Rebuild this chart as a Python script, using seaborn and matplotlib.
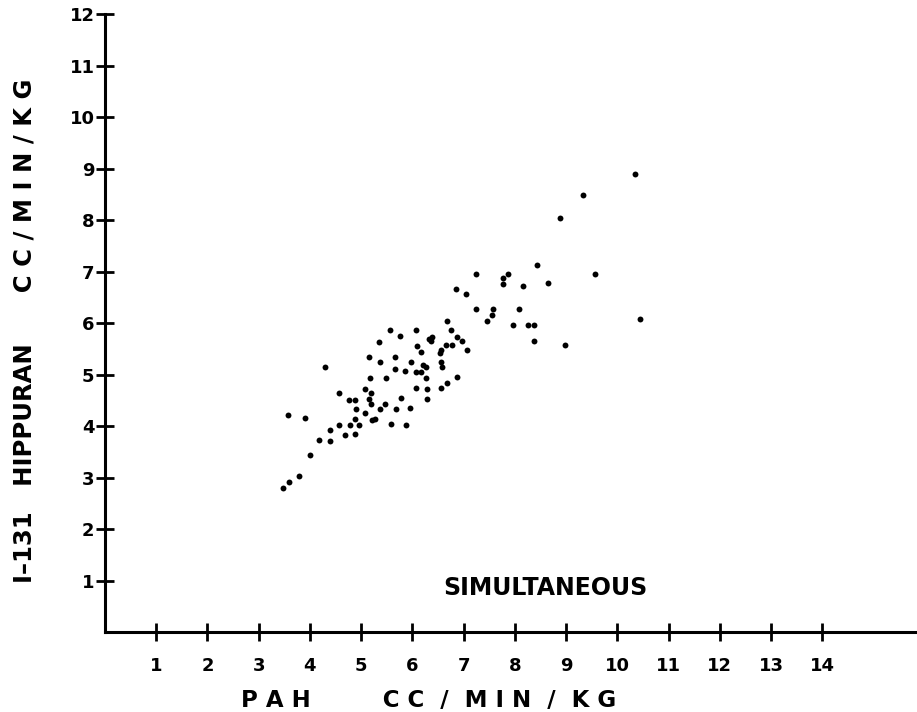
import pandas as pd
import seaborn as sns
import matplotlib
matplotlib.use("Agg")
from matplotlib import pyplot as plt

# format plots
sns.set_style("white")
plt.rcParams['font.family'] = ['DejaVu Sans']
plt.rcParams['font.weight'] = 'bold'
plt.rcParams['text.color'] = 'black'
plt.rcParams['axes.labelcolor'] = 'black'
plt.rcParams['xtick.color'] = 'black'
plt.rcParams['ytick.color'] = 'black'

# data (PAH clearance vs I-131 hippuran clearance, cc/min/kg)
pah = [7.25, 7.57, 7.56, 7.46, 6.68, 5.56, 6.07, 6.76, 5.75, 6.38,
       6.32, 6.36, 6.87, 6.96, 5.35, 6.09, 6.65, 6.77, 6.16, 6.56,
       6.53, 7.06, 5.16, 5.66, 5.36, 5.97, 6.56, 6.21, 6.27, 4.29,
       5.67, 5.85, 6.07, 6.17, 6.58, 5.17, 5.49, 6.27, 6.87, 6.68,
       5.07, 6.07, 6.28, 6.55, 4.57, 5.19, 4.77, 4.88, 5.16, 5.78,
       6.29, 5.19, 5.47, 4.89, 5.36, 5.68, 5.96, 5.08, 3.58, 3.90,
       4.88, 5.22, 5.28, 4.57, 4.78, 4.96, 5.58, 5.87, 4.39, 4.69,
       4.88, 4.17, 4.39, 4.00, 3.79, 3.59, 3.48,
       10.34, 9.34, 8.88, 8.44, 9.56, 8.65, 7.25, 7.87, 7.76, 7.76,
       8.16, 6.86, 7.05, 8.08, 7.97, 8.26, 8.37, 8.37, 8.98, 10.44]
hippuran = [6.28, 6.28, 6.16, 6.05, 6.05, 5.87, 5.87, 5.87, 5.75, 5.74,
            5.69, 5.65, 5.73, 5.65, 5.64, 5.56, 5.57, 5.57, 5.45, 5.48,
            5.42, 5.48, 5.35, 5.35, 5.25, 5.25, 5.25, 5.19, 5.15, 5.15,
            5.11, 5.07, 5.05, 5.05, 5.15, 4.93, 4.93, 4.93, 4.96, 4.85,
            4.72, 4.74, 4.72, 4.74, 4.65, 4.64, 4.52, 4.52, 4.53, 4.55,
            4.53, 4.43, 4.44, 4.34, 4.33, 4.33, 4.35, 4.25, 4.22, 4.16,
            4.15, 4.12, 4.14, 4.03, 4.03, 4.03, 4.05, 4.03, 3.93, 3.83,
            3.85, 3.73, 3.72, 3.44, 3.04, 2.92, 2.81,
            8.90, 8.50, 8.05, 7.14, 6.96, 6.79, 6.96, 6.96, 6.87, 6.76,
            6.73, 6.66, 6.57, 6.27, 5.97, 5.97, 5.97, 5.66, 5.57, 6.08]
x_ticks = list(range(1, 15))
y_ticks = list(range(1, 13))

data = pd.DataFrame({'PAH': pah, 'Hippuran': hippuran})

fig = plt.figure(figsize=(9.17, 7.12), dpi=100)
ax = fig.add_axes([105 / 917, 79.7 / 712, 812 / 917, 618 / 712])

sns.scatterplot(data=data, x='PAH', y='Hippuran', color='black', s=18,
                linewidth=0, ax=ax, legend=False)

ax.set_xlim(0, 15.85)
ax.set_ylim(0, 12)
ax.set_xticks(x_ticks)
ax.set_yticks(y_ticks)
ax.set_xticklabels([str(t) for t in x_ticks], fontsize=13, fontweight='bold')
ax.set_yticklabels([str(t) for t in y_ticks], fontsize=13, fontweight='bold')
ax.tick_params(axis='both', which='major', direction='inout', length=13,
               width=2, color='black', bottom=True, left=True)
ax.tick_params(axis='x', pad=11)
ax.tick_params(axis='y', pad=1)

sns.despine(ax=ax)
for side in ['left', 'bottom']:
    ax.spines[side].set_linewidth(2.2)
    ax.spines[side].set_color('black')

ax.set_xlabel('P A H         C C  /  M I N  /  K G', fontsize=16.5,
              fontweight='bold', va='center')
ax.xaxis.set_label_coords(323.5 / 812, -68 / 618)
ax.set_ylabel('I–131   HIPPURAN      C C / M I N / K G', fontsize=17.5,
              fontweight='bold', va='center')
ax.yaxis.set_label_coords(-80 / 812, 301.6 / 618)

ax.text(8.6, 0.86, 'SIMULTANEOUS', fontsize=17, fontweight='bold',
        ha='center', va='center')

plt.savefig('out.png', dpi=100)
plt.close()
